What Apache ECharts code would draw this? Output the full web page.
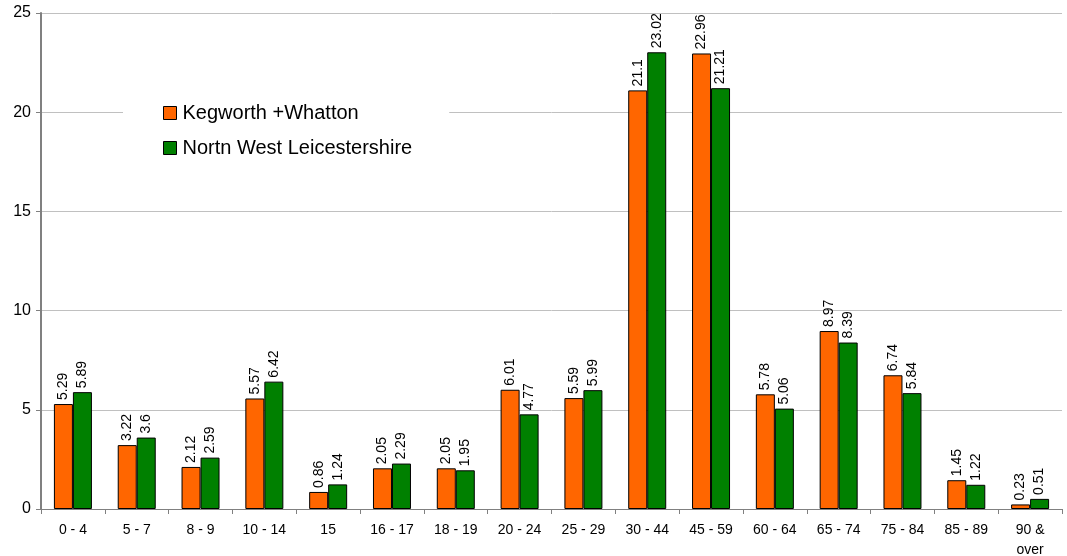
<!DOCTYPE html>
<html><head><meta charset="utf-8">
<script src="https://cdn.jsdelivr.net/npm/echarts@6/dist/echarts.min.js"></script>
<style>html,body{margin:0;padding:0;background:#fff}#c{width:1067px;height:556px}</style>
</head><body><div id="c"></div>
<script>
const categories = ['0 - 4','5 - 7','8 - 9','10 - 14','15','16 - 17','18 - 19','20 - 24','25 - 29','30 - 44','45 - 59','60 - 64','65 - 74','75 - 84','85 - 89','90 &\nover'];
const kegworth = [5.29,3.22,2.12,5.57,0.86,2.05,2.05,6.01,5.59,21.1,22.96,5.78,8.97,6.74,1.45,0.23];
const nwLeics = [5.89,3.6,2.59,6.42,1.24,2.29,1.95,4.77,5.99,23.02,21.21,5.06,8.39,5.84,1.22,0.51];
const seriesNames = ['Kegworth +Whatton','Nortn West Leicestershire'];
const yTicks = {min:0,max:25,interval:5};

const font = 'Liberation Sans, Arial, sans-serif';
const lbl = {show:true,position:'top',rotate:90,align:'left',verticalAlign:'middle',distance:4,fontSize:14,fontFamily:font,color:'#000'};
const chart = echarts.init(document.getElementById('c'));
chart.setOption({
  animation:false,
  grid:{left:41,right:5,top:13,bottom:47,containLabel:false,outerBoundsMode:'none'},
  legend:{
    orient:'vertical',left:123,top:95,
    backgroundColor:'#fff',padding:[8,37,8,40],itemGap:15,
    itemWidth:13,itemHeight:13,icon:'rect',
    textStyle:{fontSize:20,fontFamily:font,color:'#000',padding:[0,0,0,1]},
    data:seriesNames.map(n=>({name:n,itemStyle:{borderColor:'#000',borderWidth:1}}))
  },
  xAxis:{type:'category',data:categories,
    axisLine:{lineStyle:{color:'#808080',width:1}},
    axisTick:{show:true,alignWithLabel:false,inside:false,length:5,lineStyle:{color:'#808080'}},
    axisLabel:{fontSize:14,fontFamily:font,color:'#000',margin:11,interval:0,lineHeight:20}
  },
  yAxis:{type:'value',min:yTicks.min,max:yTicks.max,interval:yTicks.interval,
    axisLine:{show:true,lineStyle:{color:'#808080',width:2}},
    axisTick:{show:true,length:5,lineStyle:{color:'#808080'}},
    axisLabel:{fontSize:16,fontFamily:font,color:'#000',margin:10},
    splitLine:{lineStyle:{color:'#c0c0c0',width:1}}
  },
  series:[
    {name:seriesNames[0],type:'bar',data:kegworth,barWidth:19,barGap:'0%',
     itemStyle:{color:'#FF6600',borderColor:'#000',borderWidth:1},label:lbl},
    {name:seriesNames[1],type:'bar',data:nwLeics,barWidth:19,barGap:'0%',
     itemStyle:{color:'#008000',borderColor:'#000',borderWidth:1},label:lbl}
  ]
});
</script></body></html>
